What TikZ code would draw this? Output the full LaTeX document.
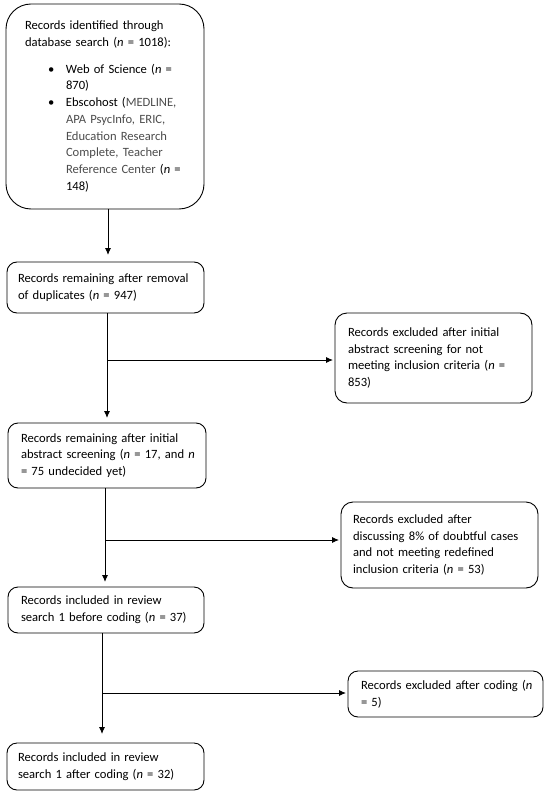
\documentclass[tikz,border=0pt]{standalone}
\usepackage{fontspec}
\setmainfont{Carlito}
\usetikzlibrary{arrows.meta,calc}
\begin{document}
\begin{tikzpicture}[x=1pt,y=-1pt,
  box/.style={draw, line width=0.9pt, rounded corners=10pt, align=left, anchor=north west,
    inner ysep=0pt, outer sep=0pt, font=\fontsize{12.6}{16.7}\selectfont},
  arr/.style={line width=0.9pt, -{Latex[length=7pt,width=6pt]}}]
\useasboundingbox (0,0) rectangle (550,794);
\definecolor{gtext}{gray}{0.3}
\newcommand{\bul}{\hspace*{23pt}\makebox[18pt][l]{\textbullet}}
\newcommand{\ind}{\hspace*{41pt}}
\newcommand{\nn}{{\itshape n}}
\newcommand{\tline}[1]{\mbox{#1}}

\node[box, rounded corners=25pt, text width=160pt, inner xsep=19pt, minimum height=205pt] (b1) at (6,4)
{\tline{Records identified through}\\
\tline{database search (\nn{} = 1018):}\\[10pt]
\tline{\bul Web of Science (\nn{} =}\\
\tline{\ind 870)}\\
\tline{\bul Ebscohost ({\color{gtext}MEDLINE,}}\\
\tline{\ind {\color{gtext}APA PsycInfo, ERIC,}}\\
\tline{\ind {\color{gtext}Education Research}}\\
\tline{\ind {\color{gtext}Complete, Teacher}}\\
\tline{\ind {\color{gtext}Reference Center} (\nn{} =}\\
\tline{\ind 148)}};

\node[box, text width=175pt, inner xsep=11pt, minimum height=51pt] (b2) at (7,262)
{\tline{Records remaining after removal}\\ \tline{of duplicates (\nn{} = 947)}};

\node[box, rounded corners=12pt, text width=171pt, inner xsep=13pt, minimum height=90pt] (b3) at (335,313)
{\tline{Records excluded after initial}\\ \tline{abstract screening for not}\\ \tline{meeting inclusion criteria (\nn{} =}\\ \tline{853)}};

\node[box, text width=172pt, inner xsep=13pt, minimum height=65pt] (b4) at (8,423)
{\tline{Records remaining after initial}\\ \tline{abstract screening (\nn{} = 17, and \nn{}}\\ \tline{= 75 undecided yet)}};

\node[box, rounded corners=12pt, text width=173pt, inner xsep=12pt, minimum height=86pt] (b6) at (341,502)
{\tline{Records excluded after}\\ \tline{discussing 8\% of doubtful cases}\\ \tline{and not meeting redefined}\\ \tline{inclusion criteria (\nn{} = 53)}};

\node[box, text width=170pt, inner xsep=13pt, minimum height=46pt] (b5) at (8,587)
{\tline{Records included in review}\\ \tline{search 1 before coding (\nn{} = 37)}};

\node[box, text width=169pt, inner xsep=13pt, minimum height=46pt] (b7) at (348,671)
{\tline{Records excluded after coding (\nn{}}\\ \tline{= 5)}};

\node[box, text width=175pt, inner xsep=11pt, minimum height=47pt] (b8) at (7,743)
{\tline{Records included in review}\\ \tline{search 1 after coding (\nn{} = 32)}};

% vertical arrows
\draw[arr, shorten >=7pt] ([xshift=3pt]b1.south) -- ([xshift=3pt]b1.south |- b2.north);
\draw[arr, shorten >=5pt] ([xshift=1.5pt]b2.south) -- ([xshift=1.5pt]b2.south |- b4.north);
\draw[arr, shorten >=5pt] ([xshift=-2pt]b4.south) -- ([xshift=-2pt]b4.south |- b5.north);
\draw[arr, shorten >=9pt] ([xshift=-4pt]b5.south) -- ([xshift=-4pt]b5.south |- b8.north);

% branches
\coordinate (j1) at ($([xshift=1.5pt]b2.south |- b3.west)+(0,2)$);
\coordinate (j2) at ($([xshift=-2pt]b4.south |- b6.west)+(0,-5)$);
\coordinate (j3) at ($([xshift=-4pt]b5.south |- b7.west)+(0,-1)$);
\draw[arr, shorten >=2pt] (j1) -- (j1 -| b3.west);
\draw[arr, shorten >=2pt] (j2) -- (j2 -| b6.west);
\draw[arr, shorten >=2pt] (j3) -- (j3 -| b7.west);
\end{tikzpicture}
\end{document}
